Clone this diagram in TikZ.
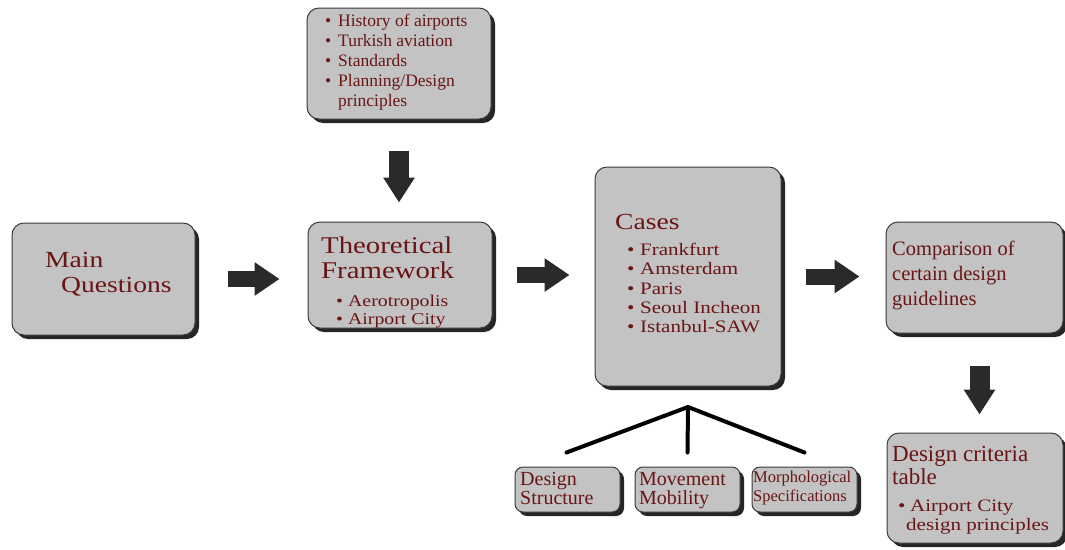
\documentclass[tikz,border=0pt]{standalone}
\usepackage{fontspec}
\setmainfont{Liberation Serif}
\newfontfamily\wfont{Liberation Serif}[FakeStretch=1.2]
\usetikzlibrary{arrows.meta,positioning,shadows}
\definecolor{BoxFill}{HTML}{C3C3C3}
\definecolor{BoxLine}{HTML}{3A3A3A}
\definecolor{TxtRed}{HTML}{6A1515}
\definecolor{ArrCol}{HTML}{2A2A2A}
\newcommand{\bul}[1][13pt]{\makebox[#1][l]{\textbullet}}

\begin{document}
\begin{tikzpicture}[x=1pt,y=-1pt]
  \tikzstyle{mybox}=[draw=BoxLine, fill=BoxFill, line width=1pt, rounded corners=12pt,
              drop shadow={shadow xshift=4pt, shadow yshift=-4pt, fill=black!85, opacity=1}]
  \tikzstyle{smallbox}=[mybox, rounded corners=8pt, minimum width=105pt, minimum height=45pt]
  \tikzstyle{mytxt}=[text=TxtRed, align=left, anchor=north west, inner sep=0pt]
  \tikzstyle{hbar}=[line width=16pt, ArrCol, -{Triangle[width=32pt,length=25pt]}]
  \tikzstyle{vbar}=[line width=20pt, ArrCol, -{Triangle[width=30pt,length=25pt]}]
  \tikzstyle{branch}=[line width=4pt, black, line cap=round]
  \useasboundingbox (0,0) rectangle (1065,549);
  % background studies
  \node[mybox, minimum width=184pt, minimum height=111pt] (hist) at (399,63.5) {};
  \node[mytxt, font=\fontsize{17.5}{20}\selectfont] (hist-t) at (325,14)
    {\bul History of airports\\ \bul Turkish aviation\\ \bul Standards\\
     \bul Planning/Design\\ \hspace*{13pt}principles};
  % main questions
  \node[mybox, minimum width=183pt, minimum height=112pt] (main) at (103.5,279) {};
  \node[mytxt, font=\wfont\fontsize{23}{25}\selectfont] (main-t) at (45,252)
    {Main\\ \hspace*{16pt}Questions};
  % theoretical framework
  \node[mybox, minimum width=184pt, minimum height=106pt] (theo) at (400,275) {};
  \node[mytxt, font=\wfont\fontsize{24}{25}\selectfont] (theo-t) at (321,237)
    {Theoretical\\ Framework};
  \node[mytxt, font=\wfont\fontsize{16.5}{18}\selectfont] (theo-l) at (336,294.5)
    {\bul[12pt]Aerotropolis\\ \bul[12pt]Airport City};
  % cases
  \node[mybox, minimum width=186pt, minimum height=219pt] (cases) at (688,276.5) {};
  \node[mytxt, font=\wfont\fontsize{23}{25}\selectfont] (cases-t) at (615,214) {Cases};
  \node[mytxt, font=\wfont\fontsize{17.5}{19.3}\selectfont] (cases-l) at (627,243)
    {\bul Frankfurt\\ \bul Amsterdam\\ \bul Paris\\ \bul Seoul Incheon\\ \bul Istanbul-SAW};
  % comparison
  \node[mybox, minimum width=177pt, minimum height=111pt] (comp) at (974.5,277.5) {};
  \node[mytxt, font=\fontsize{20.5}{25}\selectfont] (comp-t) at (892,241)
    {Comparison of\\ certain design\\ guidelines};
  % design criteria
  \node[mybox, minimum width=176pt, minimum height=110pt] (crit) at (975,488) {};
  \node[mytxt, font=\fontsize{23}{23.5}\selectfont] (crit-t) at (892,446)
    {Design criteria\\ table};
  \node[mytxt, font=\wfont\fontsize{17.5}{18.5}\selectfont] (crit-l) at (898,500)
    {\bul[12pt]Airport City\\ \hspace*{8pt}design principles};
  % sub topics
  \node[smallbox] (ds) at (567.5,489.5) {};
  \node[mytxt, font=\fontsize{20}{19}\selectfont] (ds-t) at (520,472) {Design\\ Structure};
  \node[smallbox] (mm) at (687.5,489.5) {};
  \node[mytxt, font=\fontsize{20}{19}\selectfont] (mm-t) at (639,472) {Movement\\ Mobility};
  \node[smallbox] (mo) at (804.5,489.5) {};
  \node[mytxt, font=\fontsize{16.5}{18.5}\selectfont] (mo-t) at (753,471) {Morphological\\ Specifications};
  % arrows
  \draw[vbar, shorten <=31pt, shorten >=19pt] (hist.south) -- (hist.south |- theo.north);
  \draw[hbar, shorten <=32pt, shorten >=28pt] (main.east) -- (main.east -| theo.west);
  \draw[hbar, shorten <=24pt, shorten >=25pt] (theo.east) -- (theo.east -| cases.west);
  \draw[hbar, shorten <=24pt, shorten >=26pt] (cases.east) -- (cases.east -| comp.west);
  \draw[vbar, shorten <=32pt, shorten >=18pt] ([xshift=5pt]comp.south) -- ([xshift=5pt]comp.south |- crit.north);
  % branches
  \coordinate (fork) at (688,407);
  \draw[branch] (fork) -- ([xshift=-1pt,yshift=14pt]ds.north);
  \draw[branch] (fork) -- ([yshift=14pt]mm.north);
  \draw[branch] (fork) -- ([yshift=14pt]mo.north);
\end{tikzpicture}
\end{document}
